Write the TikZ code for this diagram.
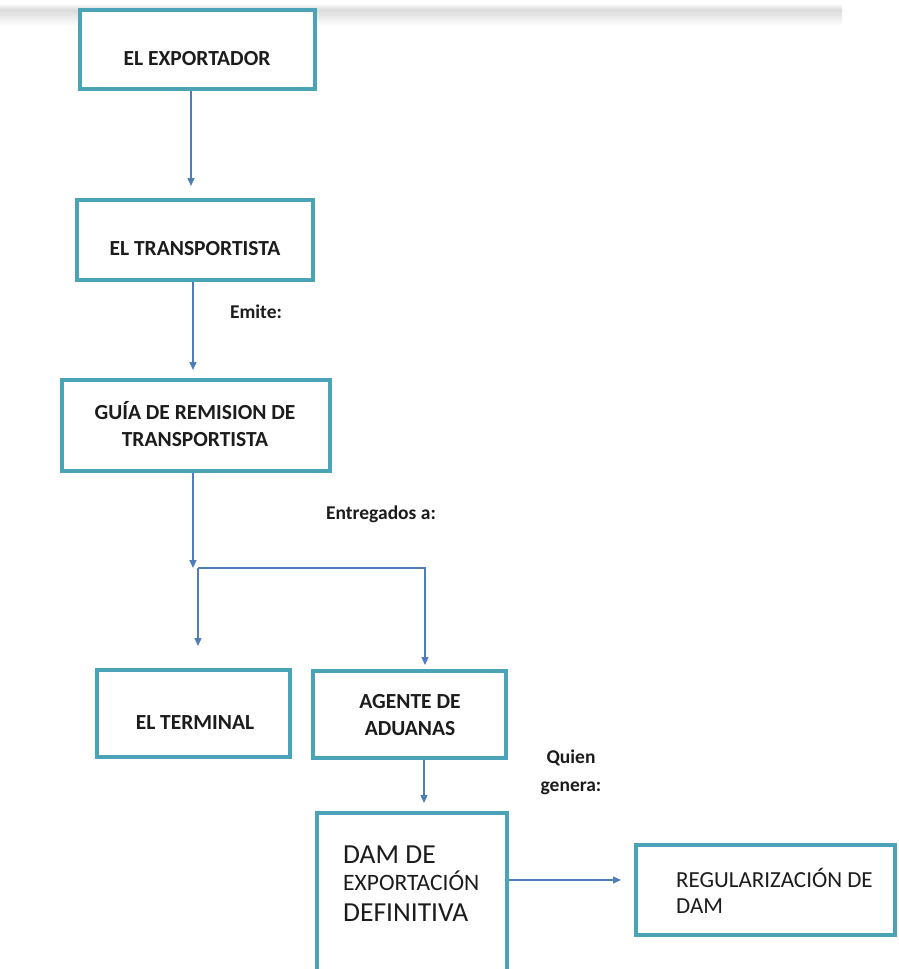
\documentclass[tikz,border=0pt]{standalone}
\usepackage{fontspec}
\setmainfont{Carlito}
\usetikzlibrary{arrows.meta,calc}
\definecolor{boxteal}{RGB}{75,163,184}
\definecolor{linkblue}{RGB}{79,125,185}
\definecolor{ink}{RGB}{28,28,28}
\tikzset{
  box/.style={draw=boxteal, line width=4pt, fill=white, rectangle, inner sep=0pt},
  tag/.style={font=\bfseries\fontsize{21.5}{27}\selectfont, text=ink, align=center, inner sep=0pt},
  note/.style={font=\bfseries\fontsize{19.5}{28}\selectfont, text=ink, align=center, inner sep=0pt},
  plain/.style={text=ink, inner sep=0pt, anchor=base west},
  link/.style={draw=linkblue, line width=1.3pt, -{Triangle[length=8pt,width=7pt]}},
  wire/.style={draw=linkblue, line width=1.3pt},
}
\begin{document}
\begin{tikzpicture}[x=1pt, y=-1pt]
  \clip (0,0) rectangle (898,969);
  \fill[white] (0,0) rectangle (898,969);

  % soft grey band along the top edge
  \shade[top color=white, bottom color=black!14] (0,3) rectangle (842,10);
  \shade[top color=black!14, bottom color=white] (0,10) rectangle (842,26);

  % boxes
  \node[box, minimum width=235pt, minimum height=79pt] (exp)  at (197.5,49.5) {};
  \node[box, minimum width=236pt, minimum height=80pt] (tra)  at (195,240) {};
  \node[box, minimum width=268pt, minimum height=91pt] (guia) at (196,425.5) {};
  \node[box, minimum width=193pt, minimum height=87pt] (term) at (193.5,713.5) {};
  \node[box, minimum width=193pt, minimum height=87pt] (age)  at (409.5,714.5) {};
  \node[box, minimum width=190pt, minimum height=177pt] (dam) at (412,901.5) {};
  \node[box, minimum width=259pt, minimum height=90pt] (reg)  at (765.5,890) {};

  % box texts
  \node[tag] (exp-t)  at (197,59)  {EL EXPORTADOR};
  \node[tag] (tra-t)  at (195,249) {EL TRANSPORTISTA};
  \node[tag] (guia-t) at (195,424) {GUÍA DE REMISION DE\\TRANSPORTISTA};
  \node[tag] (term-t) at (195,723) {EL TERMINAL};
  \node[tag] (age-t)  at (410,715) {AGENTE DE\\ADUANAS};

  \node[plain, font=\fontsize{27.5}{30}\selectfont] (dam-t1) at (343,863) {DAM DE};
  \node[plain, font=\fontsize{23.5}{28}\selectfont] (dam-t2) at (343,890) {EXPORTACIÓN};
  \node[plain, font=\fontsize{27.5}{30}\selectfont] (dam-t3) at (343,921) {DEFINITIVA};

  \node[plain, font=\fontsize{23}{26}\selectfont] (reg-t1) at (676,887) {REGULARIZACIÓN DE};
  \node[plain, font=\fontsize{23}{26}\selectfont] (reg-t2) at (676,913) {DAM};

  % connector texts
  \node[note] (emite)   at (256,312) {Emite:};
  \node[note] (entrega) at (381,514) {Entregados a:};
  \node[note] (quien)   at (571,772) {Quien\\genera:};

  % connectors
  \draw[link, shorten >=12pt] ($(exp.south)+(-6.5,0)$) coordinate (e1) -- (e1 |- tra.north);
  \draw[link, shorten >=8pt]  ($(tra.south)+(-2,0)$) coordinate (t1) -- (t1 |- guia.north);

  \coordinate (j1) at (193,568);
  \coordinate (j2) at (198,568);
  \coordinate (a0) at ($(age.north)+(15.5,0)$);
  \draw[link] (guia.south -| j1) -- (j1);
  \draw[link, shorten >=4pt]  (j2) -- (a0 |- j2) -- (a0);
  \draw[link, shorten >=22pt] (j2) -- (j2 |- term.north);

  \draw[link, shorten >=8pt]  ($(age.south)+(14.5,0)$) coordinate (a1) -- (a1 |- dam.north);
  \draw[link, shorten >=13pt] ($(dam.north east)+(0,69)$) coordinate (d1) -- (d1 -| reg.west);
\end{tikzpicture}
\end{document}
